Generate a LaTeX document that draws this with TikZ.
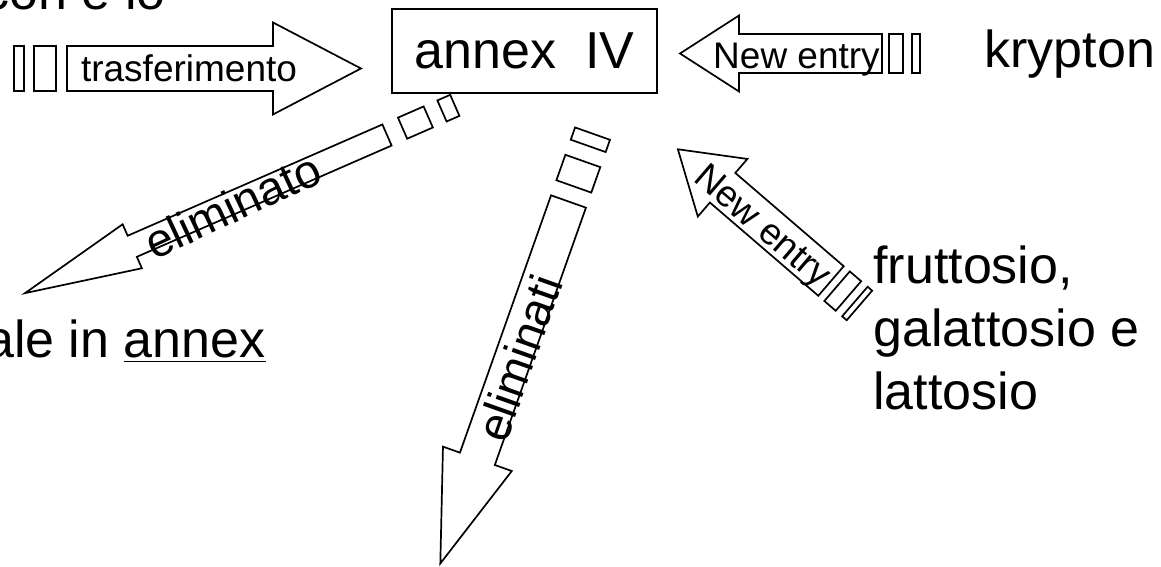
\documentclass[tikz,border=0pt]{standalone}
\usepackage{fontspec}
\setmainfont{Liberation Sans}

% block arrow along +x: half shaft, half head, shaft length, head length
\newcommand{\blkarrow}[4]{\draw[arr] (0,-#1) -- (#3,-#1) -- (#3,-#2) -- ({#3+#4},0) -- (#3,#2) -- (#3,#1) -- (0,#1) -- cycle;}
% empty glyph box behind the tail
\newcommand{\tofu}[3]{\draw[arr] (#1,-#3) rectangle (#2,#3);}

\begin{document}
\begin{tikzpicture}[x=0.5pt, y=0.5pt]
\tikzstyle{arr}=[line width=0.85pt, line join=miter]
\tikzstyle{txt}=[inner sep=0pt, font=\fontsize{26}{31.5}\selectfont]
\tikzstyle{lbl}=[inner sep=0pt, font=\fontsize{18.5}{22}\selectfont]
\tikzstyle{elbl}=[inner sep=0pt, font=\fontsize{23.5}{28}\selectfont]
\useasboundingbox (0,0) rectangle (1161,567);

\node[draw, line width=1pt, minimum width=132.5pt, minimum height=42pt, txt] (ann) at (524.5,516) {annex\ \ IV};
\node[txt, anchor=base west] (kry) at (984,499) {krypton};
\node[txt, anchor=north west, align=left] (fru) at (873,322) {fruttosio,\\galattosio e\\lattosio};
\node[txt, anchor=base east] (ale) at (266,209) {ale in \underline{annex}};
\node[txt, anchor=base east] (con) at (166,557.5) {con e lo};

% trasferimento
\begin{scope}[shift={(67,498.5)}]
\blkarrow{22.5}{46}{206}{88}
\tofu{-33}{-11}{22.5} \tofu{-53}{-43}{22.5}
\node[lbl] (trs) at (122,0) {trasferimento};
\end{scope}

% new entry, krypton
\begin{scope}[shift={(882,513.5)}, rotate=180]
\blkarrow{19.5}{38}{143}{59}
\tofu{-21}{-7}{19.5} \tofu{-38}{-30}{19.5}
\node[lbl] (ne1) at (85.5,6.5) {New entry};
\end{scope}

% eliminato
\begin{scope}[shift={(387,432)}, rotate=203.6]
\blkarrow{11.5}{24}{278}{117}
\tofu{-45}{-17}{11.5} \tofu{-74}{-60}{11.5}
\node[elbl, rotate=25] (elo) at (170,3) {eliminato};
\end{scope}

% eliminati
\begin{scope}[shift={(568.5,365.5)}, rotate=250.5]
\blkarrow{18.5}{36.5}{273}{111}
\tofu{-43}{-16}{18.5} \tofu{-72}{-59}{18.5}
\node[elbl, rotate=70.5] (eli) at (164,5.5) {eliminati};
\end{scope}

% new entry, zuccheri
\begin{scope}[shift={(831,286)}, rotate=139.3]
\blkarrow{19.5}{38}{143}{59}
\tofu{-23}{-8}{19.5} \tofu{-37.5}{-31.5}{19.5}
\node[lbl, rotate=-40.7] (ne2) at (87.6,5.4) {New entry};
\end{scope}
\end{tikzpicture}
\end{document}
